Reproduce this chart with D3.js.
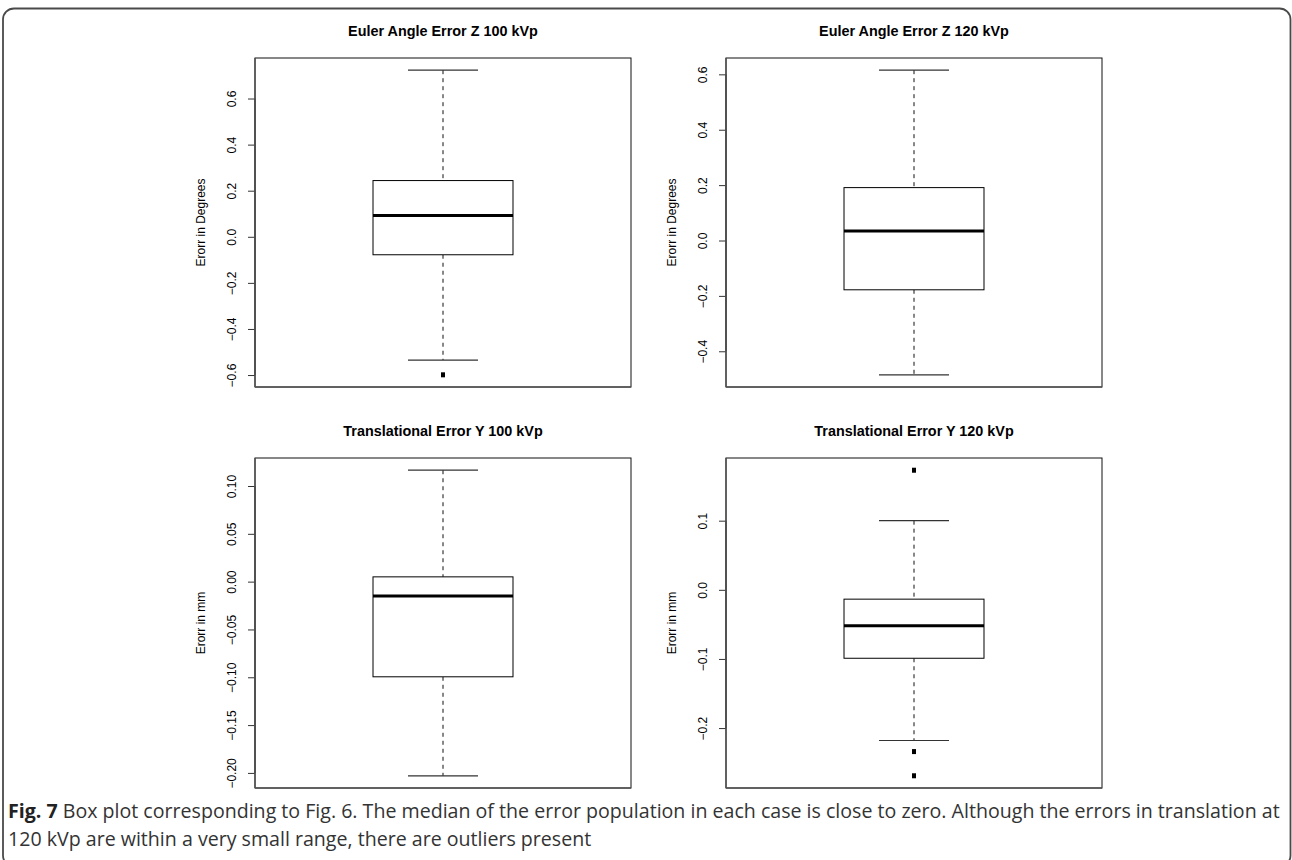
<!DOCTYPE html>
<html>
<head>
<meta charset="utf-8">
<script src="https://cdn.jsdelivr.net/npm/d3@7"></script>
<style>
  html, body { margin: 0; padding: 0; background: #fff; }
  svg { display: block; }
</style>
</head>
<body>
<svg id="chart" width="1292" height="860"></svg>
<script>
// ---- data ----
const titles = ["Euler Angle Error Z 100 kVp", "Euler Angle Error Z 120 kVp",
                "Translational Error Y 100 kVp", "Translational Error Y 120 kVp"];
const yLabels = ["Erorr in Degrees", "Erorr in Degrees", "Erorr in mm", "Erorr in mm"];
const lowerWhisker = [-0.535, -0.485, -0.203, -0.218];
const q1Values     = [-0.078, -0.178, -0.0995, -0.099];
const medianValues = [0.092, 0.034, -0.015, -0.052];
const q3Values     = [0.244, 0.191, 0.005, -0.0135];
const upperWhisker = [0.723, 0.615, 0.1165, 0.100];
const outlierValues = [[-0.599], [], [], [0.173, -0.234, -0.269]];
const tickValues = [
  [-0.6, -0.4, -0.2, 0.0, 0.2, 0.4, 0.6],
  [-0.4, -0.2, 0.0, 0.2, 0.4, 0.6],
  [-0.20, -0.15, -0.10, -0.05, 0.00, 0.05, 0.10],
  [-0.2, -0.1, 0.0, 0.1]
];
const tickDecimals = [1, 1, 2, 1];
const captionBold = "Fig. 7";
const captionLines = [
  " Box plot corresponding to Fig. 6. The median of the error population in each case is close to zero. Although the errors in translation at",
  "120 kVp are within a very small range, there are outliers present"
];

// ---- layout ----
const svg = d3.select("#chart");
const colX = [[255, 631], [726, 1102]];
const rowY = [[58, 387], [458, 788]];

// outer rounded frame
svg.append("rect")
  .attr("x", 3).attr("y", 8.5)
  .attr("width", 1287.5).attr("height", 858)
  .attr("rx", 11).attr("ry", 11)
  .attr("fill", "none").attr("stroke", "#4a4a4a").attr("stroke-width", 1.8);

const minus = s => s.replace("-", "\u2212");

titles.forEach((title, i) => {
  const [x0, x1] = colX[i % 2];
  const [y0, y1] = rowY[Math.floor(i / 2)];
  const all = [lowerWhisker[i], upperWhisker[i], ...outlierValues[i]];
  const lo = d3.min(all), hi = d3.max(all), r = hi - lo;
  const y = d3.scaleLinear().domain([lo - 0.04 * r, hi + 0.04 * r]).range([y1, y0]);
  const x = d3.scaleBand().domain([title]).range([x0, x1]).paddingInner(0).paddingOuter(0.843);
  const cx = x(title) + x.bandwidth() / 2;
  const bw = x.bandwidth();
  const g = svg.append("g");

  // title
  g.append("text")
    .attr("x", (x0 + x1) / 2).attr("y", y0 - 22.5)
    .attr("text-anchor", "middle")
    .attr("font-family", "'Liberation Sans', Arial, sans-serif")
    .attr("font-weight", "bold").attr("font-size", 14.4)
    .attr("fill", "#000")
    .text(title);

  // y axis
  const fmt = d3.format("." + tickDecimals[i] + "f");
  const axis = d3.axisLeft(y).tickValues(tickValues[i]).tickSize(7).tickFormat(d => minus(fmt(d)));
  const ag = g.append("g").attr("transform", `translate(${x0},0)`).call(axis);
  ag.select(".domain").remove();
  ag.selectAll(".tick line").attr("stroke", "#333").attr("stroke-width", 1);
  ag.selectAll(".tick text")
    .attr("font-family", "'Liberation Sans', Arial, sans-serif")
    .attr("font-size", 12).attr("fill", "#000")
    .attr("x", null).attr("dy", null)
    .attr("text-anchor", "middle")
    .attr("transform", "translate(-19,0) rotate(-90)");
  // axis line from first to last tick
  const tv = tickValues[i];
  g.append("line")
    .attr("x1", x0).attr("x2", x0)
    .attr("y1", y(d3.min(tv))).attr("y2", y(d3.max(tv)))
    .attr("stroke", "#555").attr("stroke-width", 1.5);

  // y label
  g.append("text")
    .attr("transform", `translate(${x0 - 50},${(y0 + y1) / 2}) rotate(-90)`)
    .attr("text-anchor", "middle")
    .attr("font-family", "'Liberation Sans', Arial, sans-serif")
    .attr("font-size", 12).attr("fill", "#000")
    .text(yLabels[i]);

  // plot frame
  g.append("rect")
    .attr("x", x0).attr("y", y0).attr("width", x1 - x0).attr("height", y1 - y0)
    .attr("fill", "none").attr("stroke", "#111").attr("stroke-width", 1);
  g.append("line").attr("x1", x0).attr("x2", x1).attr("y1", y1).attr("y2", y1)
    .attr("stroke", "#555").attr("stroke-width", 1.5);
  g.append("line").attr("x1", x0).attr("x2", x0).attr("y1", y0).attr("y2", y1)
    .attr("stroke", "#555").attr("stroke-width", 1.5);

  // whiskers (dashed)
  g.append("line").attr("x1", cx).attr("x2", cx)
    .attr("y1", y(upperWhisker[i])).attr("y2", y(q3Values[i]))
    .attr("stroke", "#111").attr("stroke-dasharray", "4,4");
  g.append("line").attr("x1", cx).attr("x2", cx)
    .attr("y1", y(q1Values[i])).attr("y2", y(lowerWhisker[i]))
    .attr("stroke", "#111").attr("stroke-dasharray", "4,4");
  // caps
  [upperWhisker[i], lowerWhisker[i]].forEach(v => {
    g.append("line").attr("x1", cx - bw / 4).attr("x2", cx + bw / 4)
      .attr("y1", y(v)).attr("y2", y(v))
      .attr("stroke", "#333").attr("stroke-width", 1.2);
  });
  // box
  g.append("rect")
    .attr("x", cx - bw / 2).attr("y", y(q3Values[i]))
    .attr("width", bw).attr("height", y(q1Values[i]) - y(q3Values[i]))
    .attr("fill", "#fff").attr("stroke", "#000").attr("stroke-width", 1);
  // median
  g.append("line").attr("x1", cx - bw / 2).attr("x2", cx + bw / 2)
    .attr("y1", y(medianValues[i])).attr("y2", y(medianValues[i]))
    .attr("stroke", "#000").attr("stroke-width", 3);
  // outliers
  g.selectAll(".out").data(outlierValues[i]).enter().append("rect")
    .attr("x", cx - 2).attr("y", d => y(d) - 2.5)
    .attr("width", 4).attr("height", 5).attr("fill", "#000");
});

// caption
const cap = svg.append("g")
  .attr("font-family", "'Open Sans', 'Noto Sans', sans-serif")
  .attr("font-size", 19.6).attr("fill", "#333");
const t1 = cap.append("text").attr("x", 8).attr("y", 818);
t1.append("tspan").attr("font-weight", "bold").attr("fill", "#222").text(captionBold);
t1.append("tspan").text(captionLines[0]);
cap.append("text").attr("x", 8).attr("y", 846).text(captionLines[1]);
</script>
</body>
</html>
